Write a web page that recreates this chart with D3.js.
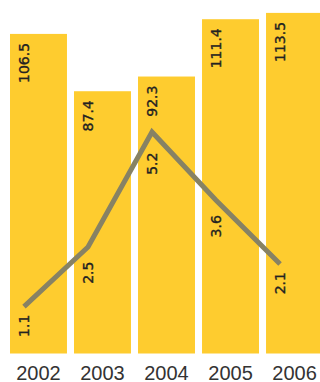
<!DOCTYPE html>
<html>
<head>
<meta charset="utf-8">
<script src="https://cdn.jsdelivr.net/npm/d3@7"></script>
<style>
  html, body { margin: 0; padding: 0; background: #fff; }
  svg { display: block; }
</style>
</head>
<body>
<svg id="chart" width="320" height="382"></svg>
<script>
// Yearly totals (bars) and rate (line)
const years = ["2002", "2003", "2004", "2005", "2006"];
const barValues = [106.5, 87.4, 92.3, 111.4, 113.5];
const lineValues = [1.1, 2.5, 5.2, 3.6, 2.1];

const baseY = 353.5;

const svg = d3.select("#chart");

const x = d3.scaleBand()
  .domain(years)
  .range([10, 323])
  .paddingInner(0.11)
  .paddingOuter(0);

const yBar = d3.scaleLinear().domain([0, 117.8]).range([baseY, 0]);
const yLine = d3.scaleLinear().domain([0, 8.3]).range([baseY, 0]);

const barColor = "#FECC2F";
const lineColor = "#878264";
const textColor = "#222";

// Bars
svg.append("g").selectAll("rect")
  .data(years)
  .join("rect")
  .attr("x", d => x(d))
  .attr("y", (d, i) => yBar(barValues[i]))
  .attr("width", x.bandwidth())
  .attr("height", (d, i) => baseY - yBar(barValues[i]))
  .attr("fill", barColor);

// Rotated value labels share this style
function styleLabel(sel) {
  sel.attr("text-anchor", "end")
    .attr("font-family", "DejaVu Sans, sans-serif")
    .attr("font-size", 14)
    .attr("fill", textColor)
    .attr("stroke", textColor)
    .attr("stroke-width", 0.35);
}

// Bar value labels, hanging from the bar top
const anchorX = d => x(d) + 14;
svg.append("g").selectAll("text")
  .data(years)
  .join("text")
  .attr("transform", (d, i) => `translate(${anchorX(d) + 5},${yBar(barValues[i]) + 9}) rotate(-90)`)
  .call(styleLabel)
  .text((d, i) => barValues[i].toFixed(1));

// Line
const pts = years.map((d, i) => [anchorX(d), yLine(lineValues[i])]);
svg.append("path")
  .attr("d", d3.line()(pts))
  .attr("fill", "none")
  .attr("stroke", lineColor)
  .attr("stroke-width", 5)
  .attr("stroke-linejoin", "miter");

// Line value labels: placed just below the line across the label's width
function yAt(a, b, xx) {
  const t = (xx - a[0]) / (b[0] - a[0]);
  return a[1] + t * (b[1] - a[1]);
}
const half = 7;
const lineLabelY = pts.map((p, i) => {
  let m = p[1];
  if (i > 0) m = Math.max(m, yAt(pts[i - 1], p, p[0] - half));
  if (i < pts.length - 1) m = Math.max(m, yAt(p, pts[i + 1], p[0] + half));
  return m + 8;
});

svg.append("g").selectAll("text")
  .data(years)
  .join("text")
  .attr("transform", (d, i) => `translate(${pts[i][0] + 5},${lineLabelY[i]}) rotate(-90)`)
  .call(styleLabel)
  .text((d, i) => lineValues[i].toFixed(1));

// Year axis
const axis = svg.append("g")
  .attr("transform", `translate(0,${baseY})`)
  .call(d3.axisBottom(x).tickSize(0).tickPadding(0));
axis.select(".domain").remove();
axis.selectAll("text")
  .attr("dy", null)
  .attr("y", 26)
  .attr("font-family", "Liberation Sans, Arial, sans-serif")
  .attr("font-size", 20)
  .attr("fill", "#333");
</script>
</body>
</html>
